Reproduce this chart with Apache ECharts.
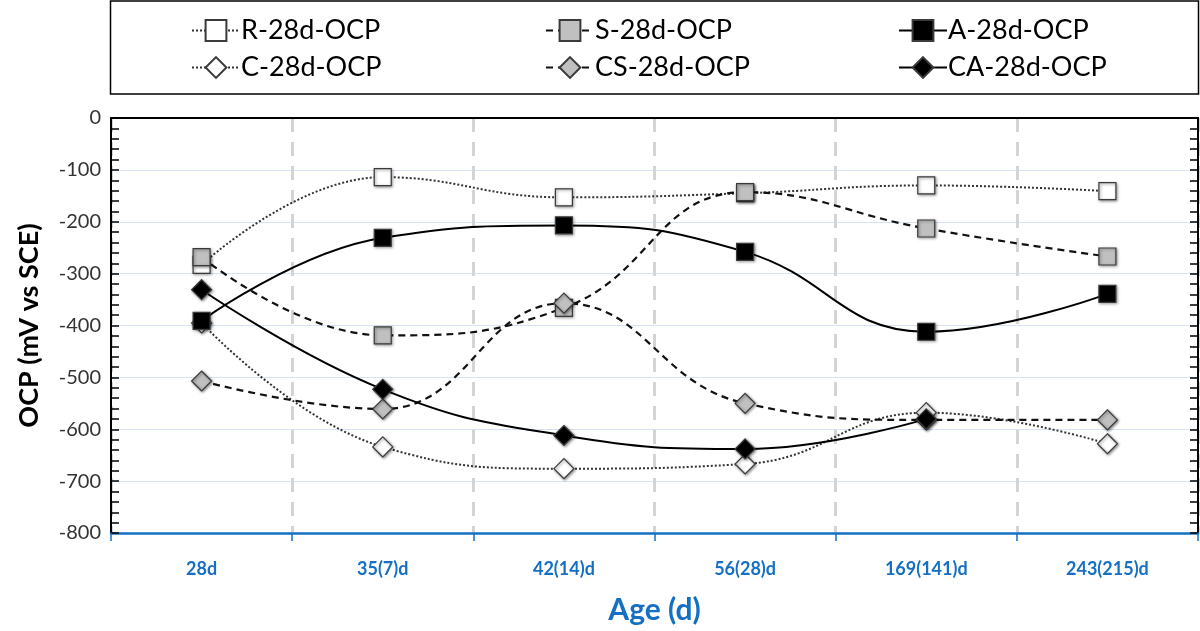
<!DOCTYPE html>
<html><head><meta charset="utf-8">
<script src="https://cdn.jsdelivr.net/npm/echarts@6/dist/echarts.min.js"></script>
<style>html,body{margin:0;padding:0;background:#fff}#c{width:1200px;height:631px}</style>
</head><body><div id="c"></div>
<script>
const categories = ['28d','35(7)d','42(14)d','56(28)d','169(141)d','243(215)d'];
const R_vals  = [-283, -114, -153, -145, -130, -141];
const S_vals  = [-268, -419, -366, -143, -213, -267];
const A_vals  = [-391, -231, -207, -258, -412, -339];
const C_vals  = [-395, -634, -676, -667, -568, -628];
const CS_vals = [-507, -561, -357, -550, -582, -582];
const CA_vals = [-331, -523, -612, -638, -580, null];
const yTicks = {min: -800, max: 0, step: 100};

const FONT = 'Lato, "Open Sans", sans-serif';
const BLUE = '#1570c4';

function mk(name, data, sym, fill, lineType, width, color) {
  return {
    name, type: 'line', data, smooth: 0.45,
    symbol: sym, symbolSize: sym === 'diamond' ? 20 : 17,
    connectNulls: false,
    lineStyle: {type: lineType, width, color},
    itemStyle: {color: fill, borderColor: '#3a3a3a', borderWidth: 1.2,
      shadowBlur: 3, shadowColor: 'rgba(0,0,0,0.45)', shadowOffsetX: 1, shadowOffsetY: 1},
    emphasis: {disabled: true}
  };
}

const series = [
  mk('R-28d-OCP', R_vals, 'rect', '#ffffff', 'dotted', 2, '#333'),
  mk('C-28d-OCP', C_vals, 'diamond', '#ffffff', 'dotted', 2, '#333'),
  mk('S-28d-OCP', S_vals, 'rect', '#c0c0c0', [7,5], 2.2, '#111'),
  mk('CS-28d-OCP', CS_vals, 'diamond', '#c0c0c0', [7,5], 2.2, '#111'),
  mk('A-28d-OCP', A_vals, 'rect', '#000000', 'solid', 2, '#000'),
  mk('CA-28d-OCP', CA_vals, 'diamond', '#000000', 'solid', 2, '#000')
];

function lg(left, names) {
  return {left, top: 12, orient: 'vertical', itemGap: 10, itemWidth: 48, itemHeight: 26,
    data: names, selectedMode: false,
    textStyle: {fontSize: 27, color: '#000', fontFamily: FONT, padding: [0,0,0,-4]}};
}

const chart = echarts.init(document.getElementById('c'));
chart.setOption({
  animation: false,
  grid: {left: 111, right: 2, top: 118, bottom: 98},
  graphic: [{type: 'rect', shape: {x: 110.5, y: 1, width: 1088, height: 93},
    style: {fill: 'none', stroke: '#000', lineWidth: 1.5}, z: 100}],
  legend: [
    lg(186, ['R-28d-OCP', 'C-28d-OCP']),
    lg(540, ['S-28d-OCP', 'CS-28d-OCP']),
    lg(893, ['A-28d-OCP', 'CA-28d-OCP'])
  ],
  xAxis: [{
    type: 'category', data: categories, boundaryGap: true, position: 'bottom',
    axisLine: {onZero: false, lineStyle: {color: BLUE, width: 2.5}},
    axisTick: {show: true, length: 8, lineStyle: {color: BLUE, width: 1.5}},
    splitLine: {show: true, lineStyle: {color: '#d4d4d4', width: 3, type: [14, 10]}},
    axisLabel: {color: BLUE, fontWeight: 'bold', fontSize: 18, margin: 27, fontFamily: FONT},
    name: 'Age (d)', nameLocation: 'middle', nameGap: 62,
    nameTextStyle: {color: BLUE, fontWeight: 'bold', fontSize: 30, fontFamily: FONT}
  }, {
    type: 'category', data: categories, position: 'top',
    axisLine: {show: true, onZero: false, lineStyle: {color: '#000', width: 2}},
    axisTick: {show: false}, axisLabel: {show: false}, splitLine: {show: false}
  }],
  yAxis: [{
    type: 'value', min: yTicks.min, max: yTicks.max, interval: yTicks.step,
    axisLine: {show: true, onZero: false, lineStyle: {color: '#000', width: 2}},
    axisTick: {show: true, inside: true, length: 8, lineStyle: {color: '#000', width: 1.5}},
    minorTick: {show: true, splitNumber: 5, length: 8, lineStyle: {color: '#000', width: 1.5}},
    splitLine: {show: true, lineStyle: {color: '#d5e3f3', width: 1}},
    axisLabel: {fontSize: 20, color: '#333', margin: 10, fontFamily: FONT},
    name: 'OCP (mV vs SCE)', nameLocation: 'middle', nameGap: 68,
    nameTextStyle: {fontSize: 27, fontWeight: 'bold', color: '#000', fontFamily: FONT}
  }, {
    type: 'value', min: yTicks.min, max: yTicks.max, interval: yTicks.step, position: 'right',
    axisLine: {show: true, onZero: false, lineStyle: {color: '#000', width: 2}},
    axisTick: {show: true, inside: true, length: 8, lineStyle: {color: '#000', width: 1.5}},
    minorTick: {show: true, splitNumber: 5, length: 8, lineStyle: {color: '#000', width: 1.5}},
    splitLine: {show: false}, axisLabel: {show: false}
  }],
  series
});
</script></body></html>
